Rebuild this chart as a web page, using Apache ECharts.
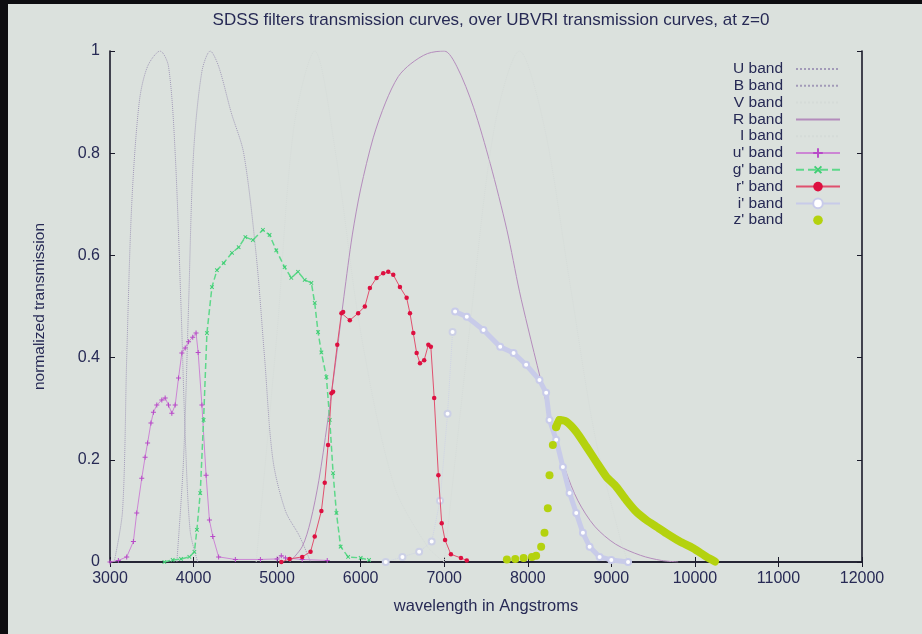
<!DOCTYPE html>
<html>
<head>
<meta charset="utf-8">
<script src="https://cdn.jsdelivr.net/npm/echarts@6/dist/echarts.min.js"></script>
<style>
html,body{margin:0;padding:0;background:#dbe1dd;}
#chart{width:922px;height:634px;}
</style>
</head>
<body>
<div id="chart"></div>
<script>
// ---- data (wavelength in Angstroms, normalized transmission) ----
const X_TICKS = [3000,4000,5000,6000,7000,8000,9000,10000,11000,12000];
const Y_TICKS = [0,0.2,0.4,0.6,0.8,1];

const U_BAND = [[3050,0],[3150,0.1],[3200,0.4],[3260,0.7],[3350,0.9],[3450,0.97],[3600,1],[3700,0.97],[3780,0.8],[3850,0.5],[3900,0.25],[3960,0.06],[4050,0]];
const B_BAND = [[3800,0],[3880,0.2],[3940,0.5],[4000,0.8],[4100,0.96],[4200,1],[4300,0.97],[4450,0.88],[4600,0.8],[4750,0.6],[4850,0.4],[4950,0.2],[5100,0.1],[5270,0.05],[5400,0]];
const V_BAND = [[4750,0],[5000,0.45],[5200,0.85],[5450,1],[5700,0.8],[6000,0.45],[6400,0.15],[6800,0.03],[7000,0]];
const R_BAND = [[5150,0],[5300,0.03],[5400,0.08],[5500,0.16],[5600,0.27],[5700,0.39],[5800,0.52],[5900,0.64],[6000,0.73],[6150,0.83],[6300,0.9],[6450,0.95],[6600,0.975],[6800,0.995],[7000,1],[7150,0.97],[7350,0.89],[7550,0.78],[7750,0.65],[7900,0.53],[8000,0.46],[8150,0.36],[8300,0.26],[8450,0.18],[8600,0.12],[8800,0.07],[9050,0.035],[9350,0.013],[9600,0.003],[9800,0]];
const I_BAND = [[7000,0],[7300,0.45],[7600,0.85],[7900,1],[8200,0.85],[8500,0.55],[8800,0.25],[9100,0.05],[9200,0]];

const U_SDSS = [[3000,0],[3100,0.003],[3200,0.01],[3280,0.04],[3320,0.096],[3380,0.164],[3420,0.205],[3450,0.233],[3490,0.272],[3520,0.293],[3560,0.307],[3620,0.317],[3660,0.321],[3700,0.307],[3740,0.291],[3780,0.307],[3820,0.36],[3860,0.409],[3900,0.419],[3940,0.431],[3990,0.44],[4030,0.448],[4055,0.41],[4100,0.307],[4150,0.17],[4190,0.082],[4230,0.05],[4300,0.01],[4500,0.005],[4800,0.005],[5000,0.006],[5050,0.012],[5100,0.008],[5300,0.005],[5600,0.003]];
const G_SDSS = [[3650,0],[3750,0.004],[3850,0.006],[3950,0.01],[4010,0.02],[4040,0.063],[4080,0.135],[4120,0.278],[4160,0.448],[4220,0.538],[4280,0.571],[4360,0.585],[4460,0.605],[4540,0.616],[4620,0.636],[4710,0.63],[4830,0.65],[4910,0.64],[4990,0.61],[5090,0.577],[5170,0.556],[5250,0.568],[5330,0.552],[5410,0.546],[5450,0.507],[5490,0.45],[5530,0.41],[5590,0.362],[5630,0.278],[5670,0.174],[5710,0.096],[5760,0.03],[5850,0.01],[6000,0.008],[6100,0.004]];
const R_SDSS = [[5050,0],[5150,0.006],[5300,0.01],[5400,0.02],[5450,0.05],[5530,0.1],[5570,0.155],[5610,0.229],[5650,0.33],[5670,0.333],[5720,0.425],[5770,0.487],[5790,0.489],[5870,0.473],[5970,0.487],[6050,0.5],[6110,0.536],[6190,0.556],[6270,0.565],[6330,0.568],[6390,0.562],[6470,0.538],[6550,0.517],[6590,0.487],[6630,0.448],[6670,0.409],[6710,0.389],[6760,0.395],[6810,0.425],[6840,0.421],[6880,0.321],[6930,0.17],[6970,0.076],[7010,0.043],[7080,0.015],[7200,0.008],[7270,0.003]];
const I_SDSS_RISE = [[6300,0],[6500,0.01],[6700,0.02],[6850,0.04],[6950,0.12],[7040,0.29],[7100,0.45]];
const I_SDSS = [[7130,0.49],[7270,0.48],[7470,0.454],[7670,0.421],[7830,0.409],[7980,0.386],[8140,0.356],[8220,0.331],[8260,0.278],[8340,0.239],[8420,0.186],[8500,0.135],[8580,0.096],[8660,0.057],[8740,0.03],[8860,0.01],[9000,0.004],[9200,0]];
const Z_SDSS_RISE = [[7750,0.005],[7850,0.006],[7950,0.008],[8050,0.01],[8100,0.012],[8160,0.03],[8200,0.057],[8240,0.105],[8260,0.17],[8300,0.229],[8340,0.264],[8380,0.278]];
const Z_SDSS_TAIL = [[8340,0.264],[8380,0.278],[8460,0.275],[8580,0.255],[8700,0.226],[8820,0.196],[8940,0.167],[9060,0.147],[9180,0.121],[9300,0.098],[9420,0.082],[9540,0.069],[9660,0.056],[9820,0.04],[9980,0.027],[10140,0.01],[10240,0.001]];

const NAMES = ['U band','B band','V band','R band','I band',"u' band","g' band","r' band","i' band","z' band"];

const PLUS = 'path://M4,0H6V4H10V6H6V10H4V6H0V4H4Z';

const chart = echarts.init(document.getElementById('chart'));
const font = '"Liberation Sans", Arial, sans-serif';
const txt = '#272a55';

function thin(name, data, color, type, width) {
  return {name, type:'line', data, symbol:'none', smooth:0.3, z:2,
    lineStyle:{color, width:width||1, type:type||'dotted'}, itemStyle:{color}};
}

const legendData = NAMES.map((n, i) => i < 5 ? {name:n, itemStyle:{opacity:0}} : {name:n});

const option = {
  backgroundColor:'#dbe1dd',
  animation:false,
  title:{text:"SDSS filters transmission curves, over UBVRI transmission curves, at z=0",
    left:486, top:7, textAlign:'center',
    textStyle:{fontFamily:font, fontSize:17, fontWeight:'normal', color:txt}},
  grid:{left:110, right:60, top:51, bottom:72},
  legend:{
    orient:'vertical', right:76, top:56, align:'right',
    itemWidth:44, itemHeight:12, itemGap:0.8,
    textStyle:{fontFamily:font, fontSize:15.5, lineHeight:16, color:txt, padding:[0,8,0,0]},
    data:legendData
  },
  xAxis:[{
    type:'value', min:3000, max:12000, interval:1000,
    name:'wavelength in Angstroms', nameLocation:'middle', nameGap:36,
    nameTextStyle:{fontFamily:font, fontSize:16.5, color:txt},
    axisLine:{show:true, onZero:false, lineStyle:{color:'#1a1a2a', width:1.6}},
    axisTick:{inside:true, length:5, lineStyle:{color:'#1a1a2a'}},
    axisLabel:{fontFamily:font, fontSize:16, color:txt, margin:9, formatter:v => String(v)},
    splitLine:{show:false}
  },{
    type:'value', min:3000, max:12000, interval:1000, position:'top',
    axisLine:{show:true, lineStyle:{color:'#1a1a2a', width:1.6}},
    axisTick:{inside:true, length:5, lineStyle:{color:'#1a1a2a'}},
    axisLabel:{show:false}, splitLine:{show:false}
  }],
  yAxis:[{
    type:'value', min:0, max:1, interval:0.2,
    name:'normalized transmission', nameLocation:'middle', nameGap:62, nameRotate:90,
    nameTextStyle:{fontFamily:font, fontSize:15.5, color:txt},
    axisLine:{show:true, lineStyle:{color:'#1a1a2a', width:1.6}},
    axisTick:{show:true, inside:true, length:5, lineStyle:{color:'#1a1a2a'}},
    axisLabel:{fontFamily:font, fontSize:16, color:txt, margin:10},
    splitLine:{show:false}
  },{
    type:'value', min:0, max:1, interval:0.2, position:'right',
    axisLine:{show:true, lineStyle:{color:'#1a1a2a', width:1.6}},
    axisTick:{show:true, inside:true, length:5, lineStyle:{color:'#1a1a2a'}},
    axisLabel:{show:false}, splitLine:{show:false}
  }],
  graphic:[
    {type:'rect', shape:{x:0,y:0,width:922,height:4}, style:{fill:'#0d0d10'}, z:100},
    {type:'rect', shape:{x:0,y:0,width:8,height:634}, style:{fill:'#0d0d10'}, z:100}
  ],
  series:[
    thin('U band', U_BAND, '#a29ab8'),
    thin('B band', B_BAND, '#a29ab8'),
    thin('V band', V_BAND, '#d5dbd8'),
    thin('R band', R_BAND, '#b48cbc', 'solid', 1),
    thin('I band', I_BAND, '#d5dbd8'),
    {name:"u' band", type:'line', data:U_SDSS, symbol:PLUS, symbolSize:5, z:4,
      lineStyle:{color:'#cc86d4', width:1}, itemStyle:{color:'#b84ac8'}},
    {name:"g' band", type:'line', data:G_SDSS, symbol:PLUS, symbolRotate:45, symbolSize:5, z:4,
      lineStyle:{color:'#5ed88a', width:1.5, type:'dashed'}, itemStyle:{color:'#3fcf74'}},
    {name:"r' band", type:'line', data:R_SDSS, symbol:'circle', symbolSize:4.5, z:5,
      lineStyle:{color:'#e0506e', width:1}, itemStyle:{color:'#dd1040'}},
    {name:"i' band", type:'line', data:I_SDSS, symbol:'emptyCircle', symbolSize:6, z:3,
      lineStyle:{color:'#c8cbe9', width:5}, itemStyle:{color:'#c8cbea', borderColor:'#c3c6ea', borderWidth:1}},
    {name:"i' band", type:'line', data:I_SDSS_RISE, symbol:'emptyCircle', symbolSize:6, z:3,
      lineStyle:{color:'#ced3e4', width:1, type:'dotted'}, itemStyle:{color:'#ccd0e6', borderColor:'#c9cde6', borderWidth:1}},
    {name:"z' band", type:'line', data:Z_SDSS_RISE, symbol:'circle', symbolSize:8, z:6,
      lineStyle:{opacity:0}, itemStyle:{color:'#b4d20e'}},
    {name:"z' band", type:'line', data:Z_SDSS_TAIL, symbol:'none', z:6, smooth:0.2,
      lineStyle:{color:'#b4d20e', width:8, cap:'round', join:'round'}, itemStyle:{color:'#b4d20e'}}
  ]
};
chart.setOption(option);
</script>
</body>
</html>
